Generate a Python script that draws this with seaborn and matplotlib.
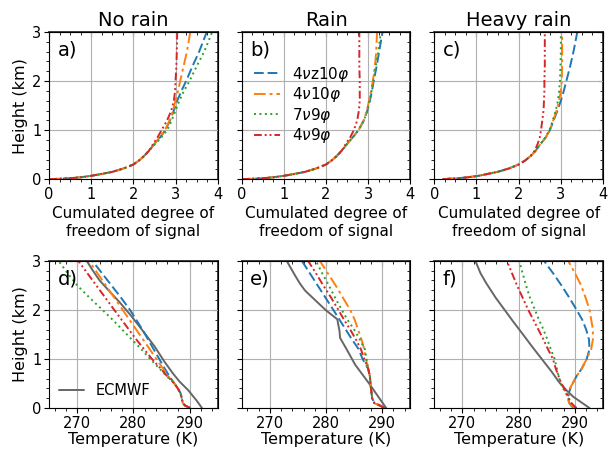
import matplotlib
matplotlib.use("Agg")
import matplotlib.pyplot as plt
from matplotlib.ticker import MultipleLocator
import seaborn as sns

# ---------------- data ----------------
titles = ["No rain", "Rain", "Heavy rain"]
top_labels = ["a)", "b)", "c)"]
bot_labels = ["d)", "e)", "f)"]
series = [r"4$\nu$z10$\varphi$", r"4$\nu$10$\varphi$", r"7$\nu$9$\varphi$", r"4$\nu$9$\varphi$"]
colors = ["#1f77b4", "#ff7f0e", "#2ca02c", "#d62728"]
styles = [(5, 2), (6, 2, 1.5, 2), (1, 1.8), (4, 1.5, 1, 1.5, 1, 1.5)]

# Cumulated DOF (x) vs height (km)
dof_h = [0, 0.01, 0.02, 0.04, 0.07, 0.1, 0.15, 0.22, 0.3, 0.38, 0.47, 0.58,
         0.72, 0.85, 1.0, 1.2, 1.4, 1.6, 1.8, 2.0, 2.3, 2.6, 3.0]
low_ab = [0, 0.25, 0.5, 0.75, 1.0, 1.2, 1.5, 1.77, 2.0, 2.13, 2.25, 2.37]
low_c = [0.2, 0.35, 0.55, 0.8, 1.05, 1.22, 1.5, 1.77, 2.0, 2.15, 2.28, 2.4]
dof = {
    "No rain": [
        low_ab + [2.5, 2.63, 2.76, 2.87, 2.96, 3.04, 3.14, 3.25, 3.40, 3.56, 3.74],
        low_ab + [2.5, 2.62, 2.75, 2.86, 2.94, 3.00, 3.06, 3.11, 3.19, 3.27, 3.35],
        low_ab + [2.52, 2.66, 2.80, 2.91, 3.00, 3.09, 3.20, 3.33, 3.50, 3.68, 3.87],
        low_ab + [2.47, 2.57, 2.67, 2.80, 2.90, 2.96, 2.99, 3.00, 3.02, 3.03, 3.04],
    ],
    "Rain": [
        low_ab + [2.5, 2.63, 2.77, 2.90, 2.98, 3.04, 3.09, 3.13, 3.20, 3.26, 3.34],
        low_ab + [2.5, 2.63, 2.77, 2.89, 2.97, 3.02, 3.07, 3.11, 3.16, 3.19, 3.21],
        low_ab + [2.5, 2.63, 2.77, 2.90, 2.98, 3.03, 3.08, 3.12, 3.18, 3.24, 3.30],
        low_ab + [2.47, 2.57, 2.66, 2.74, 2.78, 2.80, 2.80, 2.80, 2.79, 2.79, 2.79],
    ],
    "Heavy rain": [
        low_c + [2.52, 2.64, 2.74, 2.83, 2.92, 3.00, 3.07, 3.13, 3.22, 3.30, 3.39],
        low_c + [2.52, 2.64, 2.74, 2.82, 2.90, 2.96, 3.00, 3.02, 3.03, 3.03, 3.03],
        low_c + [2.52, 2.63, 2.73, 2.81, 2.88, 2.93, 2.96, 2.98, 2.99, 3.00, 3.00],
        low_c[:11] + [2.38, 2.45, 2.50, 2.53, 2.56, 2.59, 2.60, 2.61, 2.61, 2.62, 2.62, 2.62],
    ],
}

# Temperature (K) vs height (km)
t_h = [0, 0.05, 0.1, 0.2, 0.3, 0.4, 0.5, 0.65, 0.8, 1.0, 1.2, 1.4, 1.6, 1.8,
       2.0, 2.25, 2.5, 2.75, 3.0]
low_d = [290.1, 289.2, 288.8, 288.6, 288.4, 287.9, 287.3]
low_e = [290.4, 289.6, 288.6, 288.2, 288.1, 288.0, 287.9, 287.8, 287.5]
temp = {
    "No rain": [
        low_d + [286.4, 285.6, 284.6, 283.6, 282.6, 281.6, 280.5, 279.4, 277.8, 276.1, 274.4, 272.7],
        low_d + [286.2, 285.3, 284.1, 282.9, 281.7, 280.5, 279.3, 278.1, 276.6, 275.1, 273.6, 272.1],
        low_d + [285.9, 284.7, 283.0, 281.4, 279.7, 278.0, 276.3, 274.5, 272.2, 270.0, 268.3, 266.7],
        low_d + [286.0, 284.9, 283.3, 281.9, 280.5, 279.2, 277.9, 276.6, 275.0, 273.4, 271.8, 270.2],
    ],
    "Rain": [
        low_e + [286.5, 285.8, 284.6, 283.5, 282.4, 281.3, 279.9, 278.5, 277.1, 275.7],
        low_e + [287.1, 286.8, 286.3, 285.7, 285.1, 284.3, 283.0, 281.7, 280.3, 278.9],
        low_e + [287.2, 286.9, 286.0, 285.0, 283.8, 282.8, 281.6, 280.5, 279.3, 278.2],
        low_e + [286.8, 286.2, 285.3, 284.3, 283.2, 282.2, 280.9, 279.5, 278.2, 276.8],
    ],
    "Heavy rain": [
        [289.8, 289.3, 289.0, 288.8, 288.9, 289.2, 289.6, 290.3, 291.2, 292.1,
         292.6, 292.5, 292.0, 291.3, 290.3, 289.0, 287.6, 286.1, 284.5],
        [290.0, 289.4, 289.0, 288.7, 288.7, 289.1, 289.6, 290.3, 291.2, 292.1,
         292.9, 293.2, 293.2, 292.9, 292.6, 291.9, 291.1, 290.0, 288.8],
        [290.2, 289.7, 289.3, 288.8, 288.4, 287.9, 287.5, 287.1, 286.8, 286.4,
         285.7, 285.1, 284.4, 283.6, 282.9, 282.0, 281.3, 280.7, 280.1],
        [290.3, 289.8, 289.4, 288.9, 288.5, 288.1, 287.6, 287.1, 286.6, 286.1,
         285.2, 284.4, 283.5, 282.6, 281.7, 280.7, 279.7, 278.8, 277.9],
    ],
}
ecmwf_h = {
    "No rain": [0, 0.16, 0.37, 0.54, 0.71, 0.95, 1.26, 1.57, 1.88, 2.15, 2.36, 2.6, 2.8, 3.0],
    "Rain": [0, 0.51, 0.88, 1.19, 1.43, 1.57, 1.81, 1.99, 2.39, 2.53, 2.7, 3.0],
    "Heavy rain": [0, 0.23, 0.35, 0.51, 0.75, 1.0, 1.25, 1.54, 1.75, 2.0, 2.25, 2.55, 2.75, 3.0],
}
ecmwf_t = {
    "No rain": [292.2, 291.2, 289.7, 288.2, 287.0, 285.5, 283.75, 281.7, 279.6, 277.6, 275.9, 274.0, 272.8, 271.7],
    "Rain": [290.7, 287.6, 285.2, 283.7, 282.5, 282.4, 282.0, 280.0, 276.3, 275.4, 274.5, 273.0],
    "Heavy rain": [292.6, 289.7, 288.6, 287.3, 285.8, 284.1, 282.4, 280.5, 279.1, 277.5, 275.9, 274.2, 273.2, 272.3],
}

# ---------------- figure ----------------
sns.set_theme(style="ticks")
plt.rcParams["font.family"] = ["DejaVu Sans"]
plt.rcParams["mathtext.fontset"] = "dejavusans"
plt.rcParams["text.color"] = "black"
plt.rcParams["axes.labelcolor"] = "black"

fig, axes = plt.subplots(2, 3, figsize=(6.08, 4.51), dpi=100)
fig.subplots_adjust(left=0.0806, right=0.9918, top=0.929, bottom=0.0953,
                    wspace=0.142, hspace=0.554)


def style_axis(ax, xmajor, xminor):
    ax.set_ylim(0, 3)
    ax.yaxis.set_major_locator(MultipleLocator(1))
    ax.yaxis.set_minor_locator(MultipleLocator(0.2))
    ax.xaxis.set_major_locator(MultipleLocator(xmajor))
    ax.xaxis.set_minor_locator(MultipleLocator(xminor))
    ax.grid(True, which="major", color="#b0b0b0", lw=0.8)
    ax.tick_params(which="both", direction="out", colors="black", labelsize=10.5, pad=2)
    ax.tick_params(which="major", length=3.5, width=0.8)
    ax.tick_params(which="minor", length=2, width=0.6)
    for s in ax.spines.values():
        s.set_color("black")
        s.set_linewidth(0.8)
    sx = ax.secondary_xaxis("top")
    sx.xaxis.set_major_locator(MultipleLocator(xmajor))
    sx.xaxis.set_minor_locator(MultipleLocator(xminor))
    sx.tick_params(which="both", direction="in", labeltop=False, colors="black")
    sx.tick_params(which="major", length=3.5, width=0.8)
    sx.tick_params(which="minor", length=2, width=0.6)
    sy = ax.secondary_yaxis("right")
    sy.yaxis.set_major_locator(MultipleLocator(1))
    sy.yaxis.set_minor_locator(MultipleLocator(0.2))
    sy.tick_params(which="both", direction="in", labelright=False, colors="black")
    sy.tick_params(which="major", length=3.5, width=0.8)
    sy.tick_params(which="minor", length=2, width=0.6)


for j, name in enumerate(titles):
    ax = axes[0, j]
    for k in range(4):
        sns.lineplot(x=dof[name][k], y=dof_h, ax=ax, sort=False, estimator=None,
                     color=colors[k], lw=1.4, label=series[k] if j == 1 else None)
        ax.lines[-1].set_dashes(styles[k])
    ax.set_xlim(0, 4)
    style_axis(ax, 1, 0.25)
    ax.set_title(name, fontsize=14, pad=4)
    ax.set_xlabel("Cumulated degree of\nfreedom of signal", fontsize=11, labelpad=3,
                  linespacing=1.25)
    ax.set_ylabel("Height (km)" if j == 0 else "", fontsize=11.5, labelpad=3)
    if j > 0:
        ax.set_yticklabels([])
    ax.text(0.05, 0.94, top_labels[j], transform=ax.transAxes, fontsize=14,
            va="top", ha="left")
    if j == 1:
        ax.legend(loc="upper left", bbox_to_anchor=(0.036, 0.82), frameon=False,
                  fontsize=11, handlelength=1.7, handletextpad=0.8,
                  labelspacing=0.1, borderaxespad=0.0)
    elif ax.get_legend() is not None:
        ax.get_legend().remove()

    ax = axes[1, j]
    sns.lineplot(x=ecmwf_t[name], y=ecmwf_h[name], ax=ax, sort=False, estimator=None,
                 color="#666666", lw=1.4, label="ECMWF" if j == 0 else None)
    for k in range(4):
        sns.lineplot(x=temp[name][k], y=t_h, ax=ax, sort=False, estimator=None,
                     color=colors[k], lw=1.4)
        ax.lines[-1].set_dashes(styles[k])
    ax.set_xlim(265, 295)
    style_axis(ax, 10, 2)
    ax.set_xlabel("Temperature (K)", fontsize=11.5, labelpad=1)
    ax.set_ylabel("Height (km)" if j == 0 else "", fontsize=11.5, labelpad=3)
    if j > 0:
        ax.set_yticklabels([])
    ax.text(0.05, 0.94, bot_labels[j], transform=ax.transAxes, fontsize=14,
            va="top", ha="left")
    if j == 0:
        ax.legend(loc="lower left", bbox_to_anchor=(0.024, 0.027), frameon=False,
                  fontsize=10.5, handlelength=1.7, handletextpad=0.8,
                  borderaxespad=0.0)
    elif ax.get_legend() is not None:
        ax.get_legend().remove()

fig.savefig("out.png", dpi=100)
